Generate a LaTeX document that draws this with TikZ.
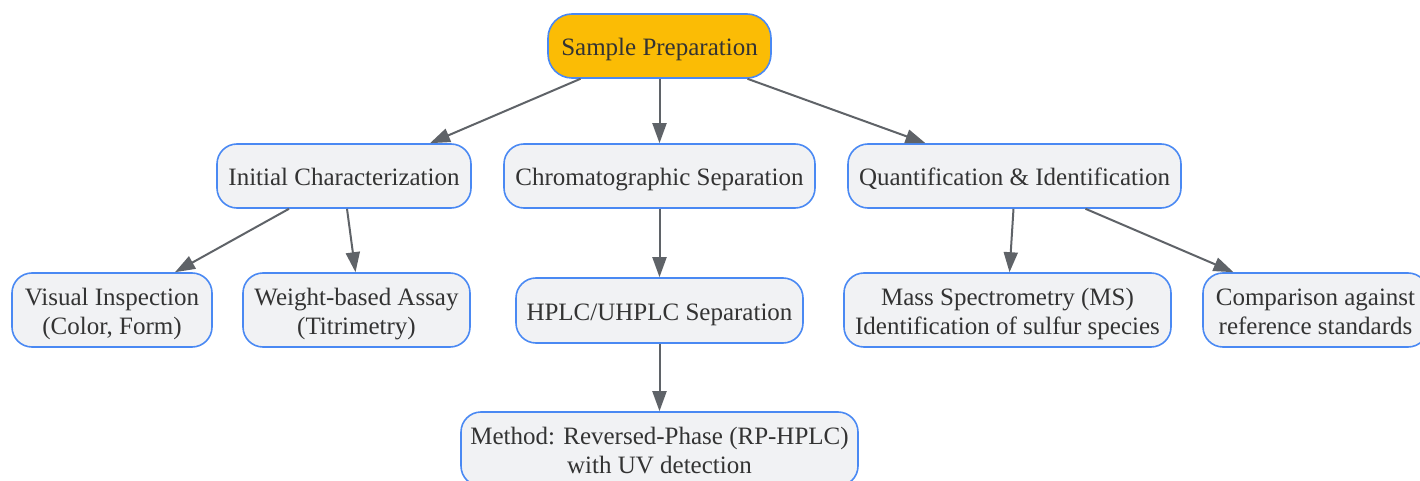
\documentclass[tikz,border=0pt]{standalone}
\usepackage{fontspec}
\setmainfont{Liberation Serif}
\usetikzlibrary{arrows.meta}
\definecolor{edgeblue}{HTML}{4A89F3}
\definecolor{boxgray}{HTML}{F1F2F4}
\definecolor{prepgold}{HTML}{FBBC05}
\definecolor{inkgray}{HTML}{333333}
\definecolor{arrowgray}{HTML}{5F6368}
\newcommand{\topgap}{\rule{0pt}{13pt}}

\begin{document}
\begin{tikzpicture}[x=0.5pt, y=-0.5pt,
    box/.style={draw=edgeblue, fill=boxgray, line width=0.8pt, rounded corners=10pt,
      align=center, inner sep=0pt, text=inkgray, font=\fontsize{12.5}{14.5}\selectfont,
      execute at begin node={\rule{0pt}{13.25pt}},
      execute at end node={\rule[-3.5pt]{0pt}{0pt}}},
    twoline/.style={box, minimum height=37pt},
    link/.style={draw=arrowgray, line width=1pt, -{Triangle[length=10pt, width=7pt]}}]
%      \draw [help lines, opacity=0.5] (0,0) grid[step=50] (1420,481);
      \useasboundingbox (0,0) rectangle (1420,481);
      \node [box, fill=prepgold, rounded corners=12pt, minimum width=111.5pt, minimum height=32pt] (prep) at (659.5,46) {Sample Preparation};

      \node [box, minimum width=127pt, minimum height=32pt] (init) at (344,176) {Initial Characterization};
      \node [box, minimum width=155.5pt, minimum height=32pt] (chrom) at (659.5,176) {Chromatographic Separation};
      \node [box, minimum width=166.5pt, minimum height=32pt] (quant) at (1014.5,176) {Quantification \& Identification};

      \node [twoline, minimum width=100pt] (visual) at (112,310) {\topgap Visual Inspection\\(Color, Form)};
      \node [twoline, minimum width=113.5pt] (weight) at (356.5,310) {\topgap Weight-based Assay\\(Titrimetry)};
      \node [box, minimum width=143.5pt, minimum height=32.5pt] (hplc) at (659.5,310.5) {HPLC/UHPLC Separation};
      \node [twoline, minimum width=163.5pt] (mass) at (1007.5,310) {\topgap Mass Spectrometry (MS)\\Identification of sulfur species};
      \node [twoline, minimum width=112.5pt] (compare) at (1315.5,310) {\topgap Comparison against\\reference standards};

      \node [twoline, minimum width=198.5pt] (method) at (659.5,449) {\topgap Method: Reversed-Phase (RP-HPLC)\\with UV detection};

      \draw [link] ([xshift=-39.5pt]prep.south) -- ([xshift=43pt]init.north);
      \draw [link] (prep.south) -- (chrom.north);
      \draw [link] ([xshift=44pt]prep.south) -- ([xshift=-44.5pt]quant.north);

      \draw [link] ([xshift=-27.5pt]init.south) -- ([xshift=31.5pt]visual.north);
      \draw [link] ([xshift=1.5pt]init.south) -- ([xshift=-0.5pt]weight.north);
      \draw [link] (chrom.south) -- (hplc.north);
      \draw [link] (hplc.south) -- (method.north);
      \draw [link] ([xshift=-0.5pt]quant.south) -- ([xshift=1pt]mass.north);
      \draw [link] ([xshift=35.5pt]quant.south) -- ([xshift=-41pt]compare.north);
    \end{tikzpicture}
\end{document}
